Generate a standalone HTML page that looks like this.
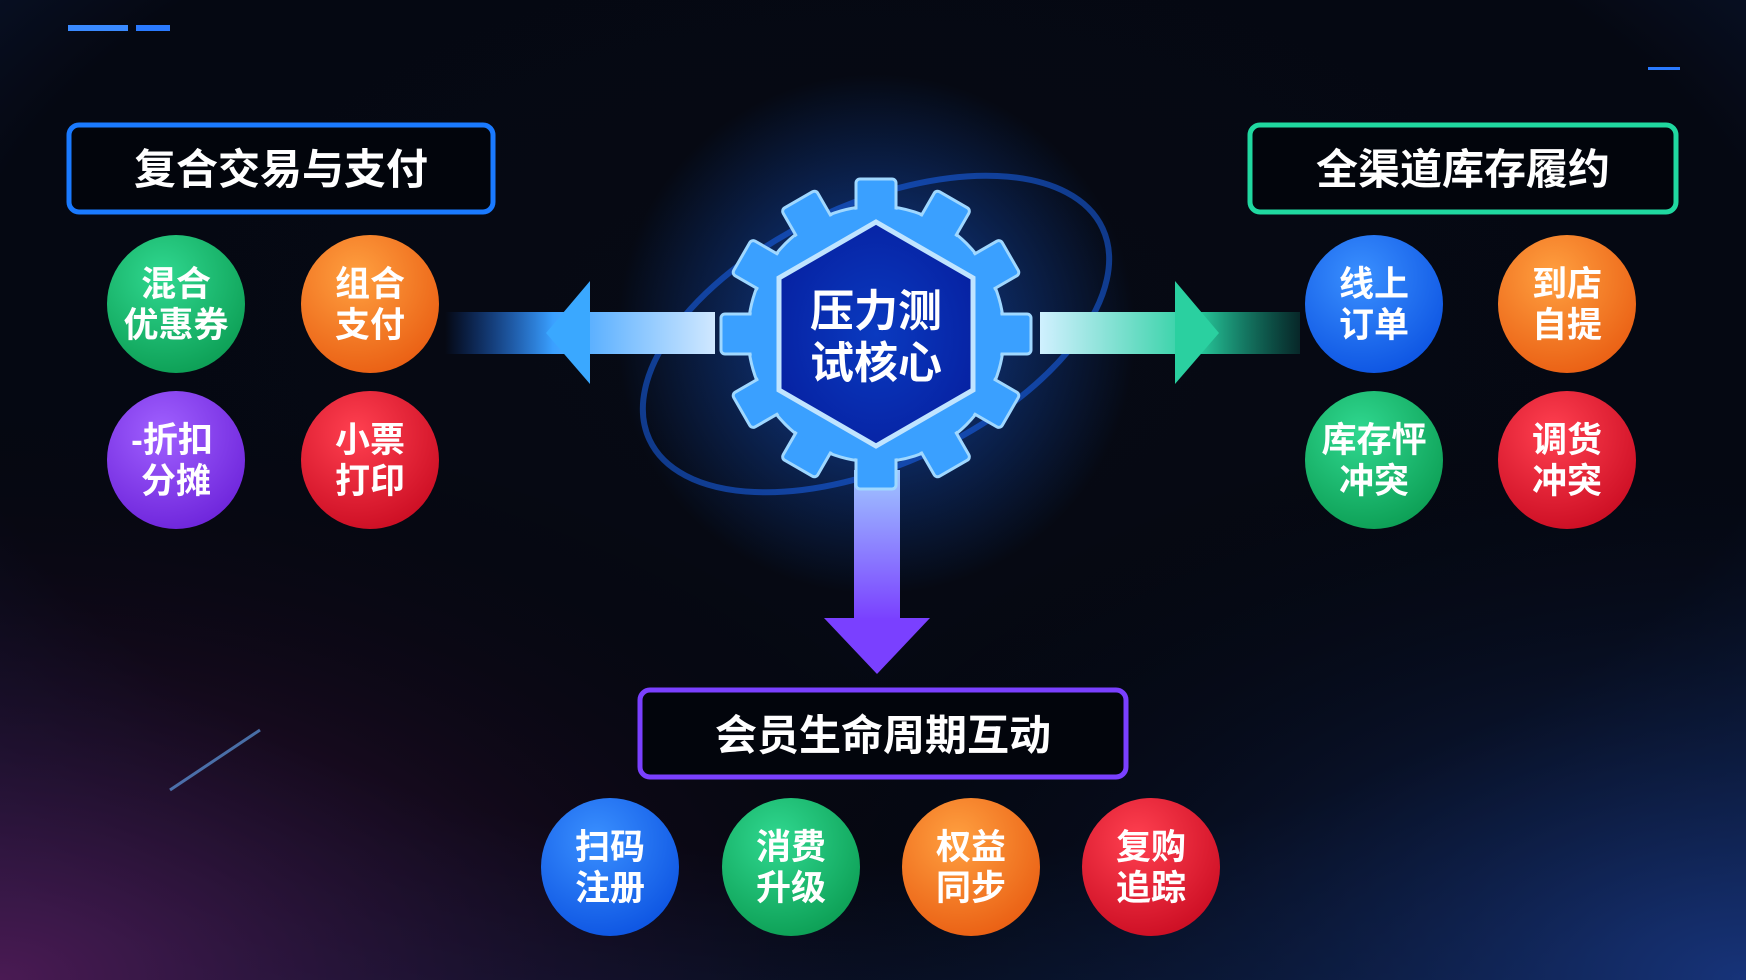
<!DOCTYPE html>
<html><head><meta charset="utf-8"><style>
html,body{margin:0;padding:0;background:#04060c;}
svg{display:block}
text{font-family:"Liberation Sans","Noto Sans CJK SC",sans-serif;font-weight:bold;fill:#fff;text-anchor:middle}
</style></head><body>
<svg width="1746" height="980" viewBox="0 0 1746 980">
<defs>
<radialGradient id="bg" cx="50%" cy="35%" r="75%">
<stop offset="0" stop-color="#060a14"/><stop offset="0.7" stop-color="#050812"/><stop offset="1" stop-color="#0b1a3a"/></radialGradient>
<radialGradient id="bl" cx="0" cy="1" r="0.6"><stop offset="0" stop-color="#5a1a5a" stop-opacity="0.8"/><stop offset="1" stop-color="#000" stop-opacity="0"/></radialGradient>
<radialGradient id="br" cx="1" cy="1" r="0.6"><stop offset="0" stop-color="#1a3a8a" stop-opacity="0.8"/><stop offset="1" stop-color="#000" stop-opacity="0"/></radialGradient>
<radialGradient id="glow" cx="0.5" cy="0.5" r="0.5"><stop offset="0" stop-color="#1a6aff" stop-opacity="0.6"/><stop offset="1" stop-color="#1a6aff" stop-opacity="0"/></radialGradient>
<linearGradient id="la" x1="0" x2="1"><stop offset="0" stop-color="#1a6aff" stop-opacity="0"/><stop offset="0.4" stop-color="#3aa0ff"/><stop offset="1" stop-color="#d0e8ff"/></linearGradient>
<linearGradient id="ra" x1="0" x2="1"><stop offset="0" stop-color="#d0f0ff"/><stop offset="0.6" stop-color="#2ad0a0"/><stop offset="1" stop-color="#10a080" stop-opacity="0.2"/></linearGradient>
<linearGradient id="da" x1="0" y1="0" x2="0" y2="1"><stop offset="0" stop-color="#a0c8ff"/><stop offset="1" stop-color="#7a40ff"/></linearGradient>
<radialGradient id="hex" cx="0.5" cy="0.5" r="0.6"><stop offset="0" stop-color="#0a3ac0"/><stop offset="1" stop-color="#0620a0"/></radialGradient>
<radialGradient id="cg" cx="0.4" cy="0.3" r="0.8"><stop offset="0" stop-color="#30d890"/><stop offset="1" stop-color="#0a9a50"/></radialGradient>
<radialGradient id="co" cx="0.4" cy="0.3" r="0.8"><stop offset="0" stop-color="#ffa040"/><stop offset="1" stop-color="#e85a10"/></radialGradient>
<radialGradient id="cp" cx="0.4" cy="0.3" r="0.8"><stop offset="0" stop-color="#a060ff"/><stop offset="1" stop-color="#6a20d8"/></radialGradient>
<radialGradient id="cr" cx="0.4" cy="0.3" r="0.8"><stop offset="0" stop-color="#ff4050"/><stop offset="1" stop-color="#c80a20"/></radialGradient>
<radialGradient id="cb" cx="0.4" cy="0.3" r="0.8"><stop offset="0" stop-color="#3a90ff"/><stop offset="1" stop-color="#0a50e0"/></radialGradient>
</defs>
<rect width="1746" height="980" fill="url(#bg)"/>
<rect width="1746" height="980" fill="url(#bl)"/>
<rect width="1746" height="980" fill="url(#br)"/>
<rect x="68" y="25" width="60" height="6" fill="#3a8aff"/><rect x="136" y="25" width="34" height="6" fill="#2a7aff"/>
<rect x="1648" y="67" width="32" height="3" fill="#2a7aff"/>
<line x1="170" y1="790" x2="260" y2="730" stroke="#6ab0ff" stroke-width="3" opacity="0.6"/>
<!-- swirl -->
<circle cx="876" cy="334" r="260" fill="url(#glow)"/>
<ellipse cx="876" cy="334" rx="250" ry="130" transform="rotate(-25 876 334)" fill="none" stroke="#1a6aff" stroke-width="6" opacity="0.5"/>
<!-- arrows -->
<rect x="445" y="312" width="270" height="42" fill="url(#la)"/>
<polygon points="590,281 590,384 546,333" fill="#3aa8ff"/>
<rect x="1040" y="312" width="260" height="42" fill="url(#ra)"/>
<polygon points="1175,281 1175,384 1219,333" fill="#2ad0a0"/>
<rect x="854" y="470" width="46" height="150" fill="url(#da)"/>
<polygon points="824,618 930,618 877,674" fill="#7a40ff"/>
<!-- gear -->
<g transform="translate(876,334)">
<g fill="#3aa0ff" stroke="#a0d8ff" stroke-width="3">
<circle r="128"/>
<g id="t"><rect x="-20" y="-155" width="40" height="40" rx="4"/></g>
<use href="#t" transform="rotate(30)"/><use href="#t" transform="rotate(60)"/><use href="#t" transform="rotate(90)"/><use href="#t" transform="rotate(120)"/><use href="#t" transform="rotate(150)"/><use href="#t" transform="rotate(180)"/><use href="#t" transform="rotate(210)"/><use href="#t" transform="rotate(240)"/><use href="#t" transform="rotate(270)"/><use href="#t" transform="rotate(300)"/><use href="#t" transform="rotate(330)"/>
</g>
<circle r="126" fill="#3aa0ff"/>
<polygon points="0,-112 97,-56 97,56 0,112 -97,56 -97,-56" fill="url(#hex)" stroke="#c0e4ff" stroke-width="5"/>
<text x="0" y="-8" font-size="44">压力测</text>
<text x="0" y="44" font-size="44">试核心</text>
</g>
<!-- boxes -->
<rect x="69" y="125" width="424" height="87" rx="10" fill="#02050c" stroke="#1a7aff" stroke-width="5"/>
<text x="281" y="184" font-size="42">复合交易与支付</text>
<rect x="1250" y="125" width="426" height="87" rx="10" fill="#02050c" stroke="#20d8a0" stroke-width="5"/>
<text x="1463" y="184" font-size="42">全渠道库存履约</text>
<rect x="640" y="690" width="486" height="87" rx="10" fill="#02050c" stroke="#7a40ff" stroke-width="5"/>
<text x="883" y="750" font-size="42">会员生命周期互动</text>
<!-- circles -->
<g font-size="35">
<circle cx="176" cy="304" r="69" fill="url(#cg)"/><text x="176" y="296" font-size="35">混合</text><text x="176" y="337" font-size="35">优惠券</text>
<circle cx="370" cy="304" r="69" fill="url(#co)"/><text x="370" y="296" font-size="35">组合</text><text x="370" y="337" font-size="35">支付</text>
<circle cx="176" cy="460" r="69" fill="url(#cp)"/><text x="172" y="452" font-size="35">-折扣</text><text x="176" y="493" font-size="35">分摊</text>
<circle cx="370" cy="460" r="69" fill="url(#cr)"/><text x="370" y="452" font-size="35">小票</text><text x="370" y="493" font-size="35">打印</text>
<circle cx="1374" cy="304" r="69" fill="url(#cb)"/><text x="1374" y="296" font-size="35">线上</text><text x="1374" y="337" font-size="35">订单</text>
<circle cx="1567" cy="304" r="69" fill="url(#co)"/><text x="1567" y="296" font-size="35">到店</text><text x="1567" y="337" font-size="35">自提</text>
<circle cx="1374" cy="460" r="69" fill="url(#cg)"/><text x="1374" y="452" font-size="35">库存怦</text><text x="1374" y="493" font-size="35">冲突</text>
<circle cx="1567" cy="460" r="69" fill="url(#cr)"/><text x="1567" y="452" font-size="35">调货</text><text x="1567" y="493" font-size="35">冲突</text>
<circle cx="610" cy="867" r="69" fill="url(#cb)"/><text x="610" y="859" font-size="35">扫码</text><text x="610" y="900" font-size="35">注册</text>
<circle cx="791" cy="867" r="69" fill="url(#cg)"/><text x="791" y="859" font-size="35">消费</text><text x="791" y="900" font-size="35">升级</text>
<circle cx="971" cy="867" r="69" fill="url(#co)"/><text x="971" y="859" font-size="35">权益</text><text x="971" y="900" font-size="35">同步</text>
<circle cx="1151" cy="867" r="69" fill="url(#cr)"/><text x="1151" y="859" font-size="35">复购</text><text x="1151" y="900" font-size="35">追踪</text>
</g>
</svg>
</body></html>
